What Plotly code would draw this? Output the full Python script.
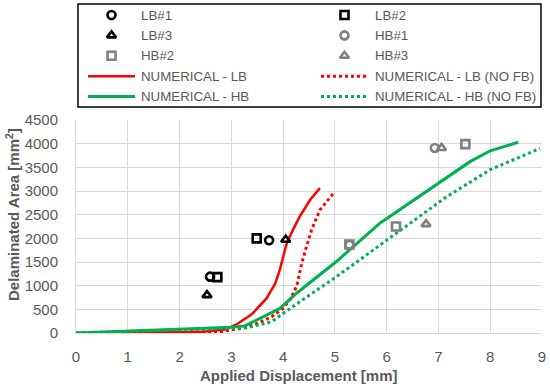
import plotly.graph_objects as go

# Experimental data
lb1_x = [2.59, 3.73]
lb1_y = [1190, 1960]
lb2_x = [2.73, 3.49]
lb2_y = [1180, 2000]
lb3_x = [2.53, 4.05]
lb3_y = [800, 1970]
hb1_x = [5.28, 6.93]
hb1_y = [1860, 3910]
hb2_x = [5.28, 6.18, 7.52]
hb2_y = [1870, 2250, 3990]
hb3_x = [6.76, 7.06]
hb3_y = [2300, 3910]

# Numerical curves
num_lb_x = [0, 1, 2, 2.5, 2.9, 3.1, 3.4, 3.68, 3.85, 3.94, 4.07, 4.2, 4.32, 4.52, 4.71]
num_lb_y = [0, 5, 15, 30, 80, 180, 400, 730, 1050, 1350, 1900, 2200, 2460, 2810, 3060]
num_lb_nofb_x = [0, 1, 2, 2.8, 3.2, 3.5, 3.78, 4.0, 4.13, 4.26, 4.36, 4.45, 4.55, 4.71, 4.97]
num_lb_nofb_y = [0, 0, 10, 30, 100, 200, 345, 520, 700, 980, 1470, 1820, 2180, 2600, 2950]
num_hb_x = [0, 1, 2, 3, 3.26, 3.94, 4.26, 5.03, 5.87, 6.71, 7.61, 8.0, 8.54]
num_hb_y = [0, 40, 80, 120, 150, 520, 840, 1510, 2320, 2950, 3620, 3850, 4030]
num_hb_nofb_x = [0, 1, 2, 3, 3.3, 3.78, 4.19, 5.03, 6.19, 7.16, 8.0, 8.96]
num_hb_nofb_y = [0, 30, 60, 90, 110, 240, 560, 1190, 2110, 2880, 3450, 3900]

x_ticks = [0, 1, 2, 3, 4, 5, 6, 7, 8, 9]
y_ticks = [0, 500, 1000, 1500, 2000, 2500, 3000, 3500, 4000, 4500]

BLACK = "#000000"
GRAY = "#7f7f7f"
RED = "#ff0000"
GREEN = "#00b050"
TXT = "#595959"
GRID = "#d9d9d9"
FONT = "Liberation Sans"

W, H = 550, 387
ML, MR, MB = 76, 8, 54
PLOT_TOP = 120  # pixel y of plot-area top
AREA_H = H - MB  # total subplot height (t=0)

fig = go.Figure()

series = [
    ("LB#1", "m", lb1_x, lb1_y, "circle-open", BLACK, 2.6),
    ("LB#2", "m", lb2_x, lb2_y, "square-open", BLACK, 2.6),
    ("LB#3", "m", lb3_x, lb3_y, "triangle-up-open", BLACK, 2.6),
    ("HB#1", "m", hb1_x, hb1_y, "circle-open", GRAY, 2.6),
    ("HB#2", "m", hb2_x, hb2_y, "square-open", GRAY, 2.6),
    ("HB#3", "m", hb3_x, hb3_y, "triangle-up-open", GRAY, 2.6),
    ("NUMERICAL - LB", "l", num_lb_x, num_lb_y, "solid", RED, 2.5),
    ("NUMERICAL - LB (NO FB)", "l", num_lb_nofb_x, num_lb_nofb_y, "dot", RED, 3),
    ("NUMERICAL - HB", "l", num_hb_x, num_hb_y, "solid", GREEN, 3),
    ("NUMERICAL - HB (NO FB)", "l", num_hb_nofb_x, num_hb_nofb_y, "dot", GREEN, 3),
]

for name, kind, x, y, sty, col, w in series:
    if kind == "l":
        fig.add_trace(go.Scatter(x=x, y=y, mode="lines", name=name, showlegend=False,
                                 line=dict(color=col, dash=sty, width=w),
                                 xaxis="x", yaxis="y"))
for name, kind, x, y, sty, col, w in series:
    if kind == "m":
        fig.add_trace(go.Scatter(x=x, y=y, mode="markers", name=name, showlegend=False,
                                 marker=dict(symbol=sty, size=8, color=col,
                                             line=dict(color=col, width=w)),
                                 xaxis="x", yaxis="y"))

# ---- custom legend (pixel-coordinate overlay axes x2/y2) ----
col_marker = [111.5, 344.5]
col_line = [(88, 135), (321, 367)]
col_text = [139, 372.5]
row_y = [15, 35.4, 55.8, 76.2, 96.6]

shapes = [dict(type="rect", xref="x2", yref="y2", x0=78, x1=541, y0=4, y1=107,
               line=dict(color="black", width=1.5), fillcolor="white", layer="below")]
annotations = []
for i, (name, kind, x, y, sty, col, w) in enumerate(series):
    c = i % 2
    r = i // 2
    yy = row_y[r]
    if kind == "m":
        fig.add_trace(go.Scatter(x=[col_marker[c]], y=[yy], mode="markers", showlegend=False,
                                 marker=dict(symbol=sty, size=8, color=col,
                                             line=dict(color=col, width=w)),
                                 xaxis="x2", yaxis="y2", hoverinfo="skip"))
    else:
        shapes.append(dict(type="line", xref="x2", yref="y2",
                           x0=col_line[c][0], x1=col_line[c][1], y0=yy, y1=yy,
                           line=dict(color=col, width=w, dash=sty)))
    annotations.append(dict(text=name, xref="x2", yref="y2", x=col_text[c], y=yy,
                            xanchor="left", yanchor="middle", showarrow=False,
                            font=dict(family=FONT, size=13.3, color=TXT)))

annotations.append(dict(text="<b>Applied Displacement [mm]</b>", xref="x2", yref="paper",
                        x=298.5, y=-(375 - AREA_H) / AREA_H, xanchor="center", yanchor="middle",
                        showarrow=False, font=dict(family=FONT, size=15, color=TXT)))
annotations.append(dict(text="<b>Delaminated Area [mm<sup>2</sup>]</b>", xref="paper", yref="y2",
                        x=-(ML - 12) / (W - ML - MR), y=215, xanchor="center", yanchor="middle",
                        textangle=-90, showarrow=False,
                        font=dict(family=FONT, size=15, color=TXT)))

main_top = (AREA_H - PLOT_TOP) / AREA_H

fig.update_layout(
    width=W, height=H,
    margin=dict(l=ML, r=MR, t=0, b=MB, pad=0, autoexpand=False),
    paper_bgcolor="white", plot_bgcolor="rgba(0,0,0,0)",
    font=dict(family=FONT, color=TXT, size=15),
    showlegend=False,
    shapes=shapes,
    annotations=annotations,
    xaxis=dict(range=[0, 9], tickvals=x_ticks, showgrid=True, gridcolor=GRID,
               gridwidth=1, zeroline=False, showline=True, linecolor=GRID, linewidth=1,
               ticks="", tickfont=dict(family=FONT, size=15, color=TXT),
               ticklabelstandoff=10, domain=[0, 1], anchor="y", fixedrange=True),
    yaxis=dict(range=[0, 4500], tickvals=y_ticks, showgrid=True, gridcolor=GRID,
               gridwidth=1, zeroline=False, showline=True, linecolor=GRID, linewidth=1,
               ticks="", tickfont=dict(family=FONT, size=15, color=TXT),
               ticklabelstandoff=14, domain=[0, main_top], anchor="x", fixedrange=True),
    xaxis2=dict(range=[ML, W - MR], domain=[0, 1], anchor="y2", visible=False,
                showgrid=False, zeroline=False, fixedrange=True),
    yaxis2=dict(range=[AREA_H, 0], domain=[0, 1], anchor="x2", visible=False,
                showgrid=False, zeroline=False, fixedrange=True),
)

fig.write_html("out.html", config={"displayModeBar": False},
               post_script="document.body.style.margin='0';")
